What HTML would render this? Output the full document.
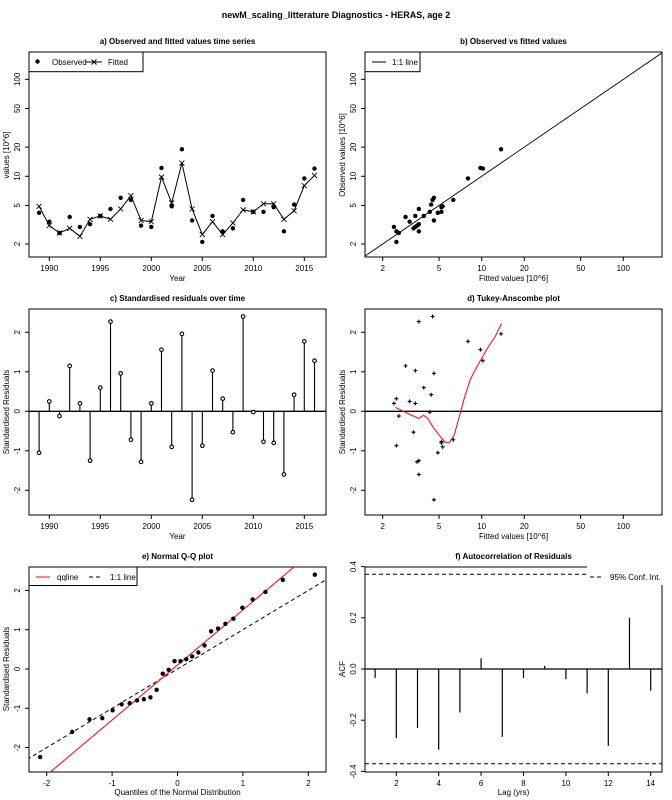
<!DOCTYPE html>
<html><head><meta charset="utf-8"><style>
body{margin:0;background:#fff}
svg{display:block;font-family:"Liberation Sans",Arial,sans-serif}
</style></head><body>
<svg id="s" width="672" height="800" xmlns="http://www.w3.org/2000/svg">
<text x="336" y="18" text-anchor="middle" font-size="9" font-weight="bold">newM_scaling_litterature Diagnostics - HERAS, age 2</text>
</svg>
<script>
const years=[1989,1990,1991,1992,1993,1994,1995,1996,1997,1998,1999,2000,2001,2002,2003,2004,2005,2006,2007,2008,2009,2010,2011,2012,2013,2014,2015,2016];
const observed=[4.2,3.4,2.6,3.8,3.0,3.2,3.9,4.6,6.0,5.7,3.1,3.0,12.2,4.9,19,3.5,2.1,3.9,2.7,2.9,5.7,4.3,4.3,4.8,2.7,5.1,9.5,12];
const fitted=[4.9,3.1,2.6,2.9,2.4,3.6,3.9,3.6,4.6,6.3,3.5,3.4,9.8,5.3,13.7,4.6,2.5,3.4,2.5,3.3,4.5,4.3,5.2,5.2,3.6,4.4,8.0,10.2];
const residuals=[-1.05,0.25,-0.12,1.15,0.2,-1.25,0.6,2.27,0.96,-0.72,-1.28,0.2,1.56,-0.9,1.96,-2.24,-0.87,1.03,0.32,-0.53,2.4,-0.02,-0.77,-0.8,-1.6,0.42,1.77,1.28];
const smoothX=[2.45,2.8,3.2,3.6,3.9,4.2,4.5,5.0,5.5,5.9,6.4,7.0,7.5,8.3,9.5,11,12.5,13.8];
const smoothY=[0.1,0.0,-0.1,-0.18,-0.1,-0.2,-0.38,-0.6,-0.78,-0.8,-0.6,-0.1,0.3,0.8,1.2,1.6,1.9,2.22];
const qqTheo=[-2.10,-1.61,-1.345,-1.15,-0.992,-0.854,-0.732,-0.619,-0.514,-0.414,-0.319,-0.225,-0.135,-0.045,0.045,0.135,0.225,0.319,0.414,0.514,0.619,0.732,0.854,0.992,1.15,1.345,1.61,2.10];
const qqSample=[-2.24,-1.6,-1.28,-1.25,-1.05,-0.9,-0.87,-0.8,-0.77,-0.72,-0.53,-0.12,-0.02,0.2,0.2,0.25,0.32,0.42,0.6,0.96,1.03,1.15,1.28,1.56,1.77,1.96,2.27,2.4];
const qqIntercept=0.1, qqSlope=1.40;
const acfLags=[1,2,3,4,5,6,7,8,9,10,11,12,13,14];
const acfValues=[-0.035,-0.27,-0.23,-0.315,-0.17,0.042,-0.265,-0.035,0.012,-0.04,-0.095,-0.3,0.2,-0.085];
const confLimit=0.37;
const yearTicks=[1990,1995,2000,2005,2010,2015];
const logValTicks=[2,5,10,20,50,100];
const residTicks=[-2,-1,0,1,2];
const qqXTicks=[-2,-1,0,1,2];
const acfXTicks=[2,4,6,8,10,12,14];
const acfYTicks=[-0.4,-0.2,0.0,0.2,0.4];

const S=document.getElementById('s');
const NS='http://www.w3.org/2000/svg';
function mk(tag,attrs,parent){const e=document.createElementNS(NS,tag);for(const k in attrs)e.setAttribute(k,attrs[k]);(parent||S).appendChild(e);return e;}
function txt(x,y,t,size,anchor,rot,bold,parent){const e=mk('text',{x:x,y:y,'font-size':size,'text-anchor':anchor||'middle'},parent);if(rot)e.setAttribute('transform','rotate(-90 '+x+' '+y+')');if(bold)e.setAttribute('font-weight','bold');e.textContent=t;return e;}

const L1=29,R1=326,L2=365,R2=662;
// scales
const xYear=v=>49.3+(v-1990)*10.2;
const yLogA=v=>244-96.9*Math.log10(v/2);
const xLogB=v=>382.7+141.6*Math.log10(v/2);
const yResC=v=>411.3-39.5*v;
const xQ=v=>177.5+65.4*v;
const yQ=v=>669-39.3*v;
const xAcf=v=>396.3+(v-2)*21.2;
const yAcf=v=>669-256*v;

function panel(name,l,t,r,b,title){
  const g=mk('g',{});
  
  
  const box=mk('rect',{x:l,y:t,width:r-l,height:b-t,fill:'none',stroke:'#000','stroke-width':1},g);
  
  
  const tt=txt((l+r)/2,t-8,title,8,'middle',false,true,g);
  
  
  return g;
}
function xaxis(g,ticks,f,b,lab,labels){
  const a=mk('g',{},g);
  
  
  ticks.forEach((v,i)=>{const x=f(v);mk('line',{x1:x,x2:x,y1:b,y2:b+4,stroke:'#000'},a);const t=txt(x,b+14,labels?labels[i]:String(v),8,'middle',false,false,a);});
  const t=txt(0,b+27,lab,8,'middle',false,false,a);t.setAttribute('x',(ticks.length?0:0));return [a,t];
}
function yaxis(g,ticks,f,l,lab,labels,labX){
  const a=mk('g',{},g);
  
  
  ticks.forEach((v,i)=>{const y=f(v);mk('line',{x1:l-4,x2:l,y1:y,y2:y,stroke:'#000'},a);const t=txt(l-9,y,labels?labels[i]:String(v),8,'middle',true,false,a);});
  return a;
}
function axisTitle(x,y,t,rot,name){const e=txt(x,y,t,8,'middle',rot,false);}
function dot(g,x,y,name){const c=mk('circle',{cx:x,cy:y,r:2.2,fill:'#000'},g);}
function plus(g,x,y,name){const p=mk('path',{d:`M${x-2},${y}h4M${x},${y-2}v4`,stroke:'#000','stroke-width':1.1},g);}
function cross(g,x,y,name){const p=mk('path',{d:`M${x-2.5},${y-2.5}l5,5M${x-2.5},${y+2.5}l5,-5`,stroke:'#000','stroke-width':0.9},g);}

// ---- a
let g=panel('panel-a-time-series',L1,52,R1,257,'a) Observed and fitted values time series');
xaxis(g,yearTicks,xYear,257,'');yaxis(g,logValTicks,yLogA,L1,'');
axisTitle(177.5,281,'Year',false,'x-axis-title-a');axisTitle(9,155,'values [10^6]',true,'y-axis-title-a');
let clip=mk('clipPath',{id:'ca'});mk('rect',{x:L1,y:52,width:R1-L1,height:205},clip);
let fl=mk('polyline',{points:years.map((y,i)=>xYear(y)+','+yLogA(fitted[i])).join(' '),fill:'none',stroke:'#000','stroke-width':1},g);

years.forEach((y,i)=>cross(g,xYear(y),yLogA(fitted[i]),'fitted-point'));
years.forEach((y,i)=>dot(g,xYear(y),yLogA(observed[i]),'observed-point'));
let lg=mk('g',{},g);
mk('rect',{x:L1,y:52,width:114,height:19.7,fill:'#fff',stroke:'#000'},lg);
dot(lg,37.5,61.5,'legend-observed-marker');txt(52,65,'Observed',8,'start',false,false,lg);
mk('line',{x1:86,x2:102,y1:62,y2:62,stroke:'#000'},lg);cross(lg,94,62,'legend-fitted-marker');txt(108,65,'Fitted',8,'start',false,false,lg);

// ---- b
g=panel('panel-b-obs-vs-fitted',L2,52,R2,257,'b) Observed vs fitted values');
xaxis(g,logValTicks,xLogB,257,'');yaxis(g,logValTicks,yLogA,L2,'');
axisTitle(513.5,281,'Fitted values [10^6]',false,'x-axis-title-b');axisTitle(345,155,'Observed values [10^6]',true,'y-axis-title-b');
// 1:1 line from corner to corner clipped
{const v0=Math.pow(10,Math.log10(2)+(L2-382.7)/141.6), v1=Math.pow(10,Math.log10(2)+(R2-382.7)/141.6);
 const l=mk('line',{x1:L2,y1:yLogA(v0),x2:R2,y2:yLogA(v1),stroke:'#000','stroke-width':0.9},g);}
years.forEach((y,i)=>dot(g,xLogB(fitted[i]),yLogA(observed[i]),'obs-fit-point'));
lg=mk('g',{},g);
mk('rect',{x:L2,y:52,width:55,height:19.7,fill:'#fff',stroke:'#000'},lg);
mk('line',{x1:372,x2:386,y1:62,y2:62,stroke:'#000'},lg);txt(392,65,'1:1 line',8,'start',false,false,lg);

// ---- c
g=panel('panel-c-residuals-time',L1,309,R1,515,'c) Standardised residuals over time');
xaxis(g,yearTicks,xYear,515,'');yaxis(g,residTicks,yResC,L1,'');
axisTitle(177.5,539,'Year',false,'x-axis-title-c');axisTitle(9,412,'Standardised Residuals',true,'y-axis-title-c');
mk('line',{x1:L1,x2:R1,y1:yResC(0),y2:yResC(0),stroke:'#000','stroke-width':1.3},g);
years.forEach((y,i)=>{const x=xYear(y);const l=mk('line',{x1:x,x2:x,y1:yResC(0),y2:yResC(residuals[i]),stroke:'#000','stroke-width':1.1},g);
 const c=mk('circle',{cx:x,cy:yResC(residuals[i]),r:1.8,fill:'#fff',stroke:'#000','stroke-width':1.1},g);});

// ---- d
g=panel('panel-d-tukey-anscombe',L2,309,R2,515,'d) Tukey-Anscombe plot');
xaxis(g,logValTicks,xLogB,515,'');yaxis(g,residTicks,yResC,L2,'');
axisTitle(513.5,539,'Fitted values [10^6]',false,'x-axis-title-d');axisTitle(345,412,'Standardised Residuals',true,'y-axis-title-d');
mk('line',{x1:L2,x2:R2,y1:yResC(0),y2:yResC(0),stroke:'#000','stroke-width':1.3},g);
years.forEach((y,i)=>plus(g,xLogB(fitted[i]),yResC(residuals[i]),'ta-point'));
{const p=mk('polyline',{points:smoothX.map((v,i)=>xLogB(v)+','+yResC(smoothY[i])).join(' '),fill:'none',stroke:'#f00','stroke-width':1},g);}

// ---- e
g=panel('panel-e-qq',L1,567,R1,772,'e) Normal Q-Q plot');
xaxis(g,qqXTicks,xQ,772,'');yaxis(g,residTicks,yQ,L1,'');
axisTitle(177.5,795,'Quantiles of the Normal Distribution',false,'x-axis-title-e');axisTitle(9,669,'Standardised Residuals',true,'y-axis-title-e');
mk('clipPath',{id:'ce'},S);mk('rect',{x:L1,y:567,width:R1-L1,height:205},S.lastChild);
{const xa=-2.3,xb=2.4;
 const l1=mk('line',{x1:xQ(xa),y1:yQ(xa),x2:xQ(xb),y2:yQ(xb),stroke:'#000','stroke-dasharray':'4,3','clip-path':'url(#ce)'},g);
 const l2=mk('line',{x1:xQ(xa),y1:yQ(qqIntercept+qqSlope*xa),x2:xQ(xb),y2:yQ(qqIntercept+qqSlope*xb),stroke:'#f00','clip-path':'url(#ce)'},g);}
qqTheo.forEach((v,i)=>dot(g,xQ(v),yQ(qqSample[i]),'qq-point'));
lg=mk('g',{},g);
mk('rect',{x:L1,y:567,width:108,height:18.5,fill:'#fff',stroke:'#000'},lg);
mk('line',{x1:36,x2:50,y1:577,y2:577,stroke:'#f00'},lg);txt(57,580,'qqline',8,'start',false,false,lg);
mk('line',{x1:89,x2:103,y1:577,y2:577,stroke:'#000','stroke-dasharray':'4,3'},lg);txt(110,580,'1:1 line',8,'start',false,false,lg);

// ---- f
g=panel('panel-f-acf',L2,567,R2,772,'f) Autocorrelation of Residuals');
xaxis(g,acfXTicks,xAcf,772,'');yaxis(g,acfYTicks,yAcf,L2,'',acfYTicks.map(v=>v.toFixed(1)));
axisTitle(513.5,795,'Lag (yrs)',false,'x-axis-title-f');axisTitle(345,669,'ACF',true,'y-axis-title-f');
mk('line',{x1:L2,x2:R2,y1:yAcf(0),y2:yAcf(0),stroke:'#000','stroke-width':1.3},g);
[confLimit,-confLimit].forEach(v=>{const l=mk('line',{x1:L2,x2:R2,y1:yAcf(v),y2:yAcf(v),stroke:'#000','stroke-dasharray':'4,3'},g);});
acfLags.forEach((lag,i)=>{const x=xAcf(lag);const l=mk('line',{x1:x,x2:x,y1:yAcf(0),y2:yAcf(acfValues[i]),stroke:'#000','stroke-width':1.2},g);});
lg=mk('g',{},g);
mk('rect',{x:587,y:565,width:76,height:20,fill:'#fff',stroke:'none'},lg);
mk('line',{x1:590,x2:604,y1:577,y2:577,stroke:'#000','stroke-dasharray':'4,3'},lg);txt(610,580,'95% Conf. Int.',8,'start',false,false,lg);

// position x-axis titles handled separately; remove empty axis label texts
document.querySelectorAll('text').forEach(t=>{if(t.textContent==='')t.remove();});
</script>
</body></html>
